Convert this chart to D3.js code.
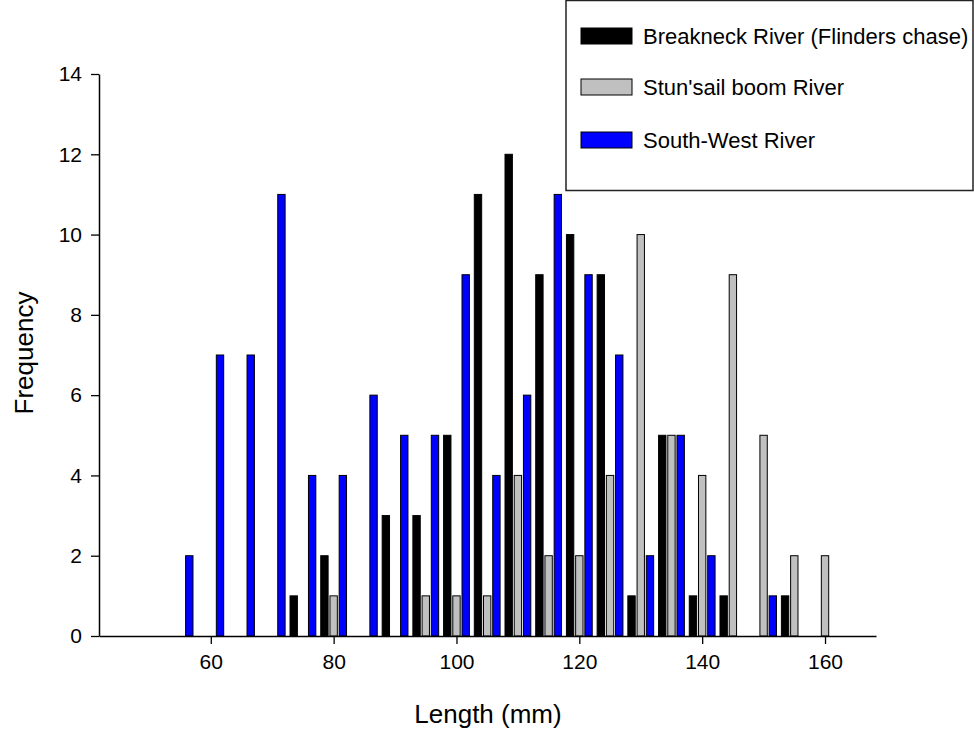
<!DOCTYPE html>
<html>
<head>
<meta charset="utf-8">
<script src="https://cdn.jsdelivr.net/npm/d3@7"></script>
<style>
  body { margin: 0; background: #fff; }
  svg { font-family: Arial, "Liberation Sans", sans-serif; }
</style>
</head>
<body>
<div class="canvas"></div>
<script>
// bin centres (mm) and counts per river
const bins = [55, 60, 65, 70, 75, 80, 85, 90, 95, 100, 105, 110, 115, 120, 125, 130, 135, 140, 145, 150, 155, 160];
const breakneck = [0, 0, 0, 0, 1, 2, 0, 3, 3, 5, 11, 12, 9, 10, 9, 1, 5, 1, 1, 0, 1, 0];
const stunsail  = [0, 0, 0, 0, 0, 1, 0, 0, 1, 1, 1, 4, 2, 2, 4, 10, 5, 4, 9, 5, 2, 2];
const southWest = [2, 7, 7, 11, 4, 4, 6, 5, 5, 9, 4, 6, 11, 9, 7, 2, 5, 2, 0, 1, 0, 0];
const seriesNames = ['Breakneck River (Flinders chase)', "Stun'sail boom River", 'South-West River'];
const yTicks = [0, 2, 4, 6, 8, 10, 12, 14];
const xTicks = [60, 80, 100, 120, 140, 160];

const colors = ['#000000', '#c0c0c0', '#0000ff'];
const offsets = [-1.5, 0, 1.5];   // mm, position of each series inside a bin
const barW = 1.2;                 // mm

const svg = d3.select('.canvas')
    .append('svg')
        .attr('width', 974)
        .attr('height', 732);

const x = d3.scaleLinear()
    .domain([41.8, 168.3])
    .range([99, 876]);

const y = d3.scaleLinear()
    .domain([0, 14])
    .range([636, 74]);

// bars
const allSeries = [breakneck, stunsail, southWest];
allSeries.forEach((vals, s) => {
    const data = bins.map((b, i) => ({bin: b, v: vals[i]})).filter(d => d.v > 0);
    svg.append('g')
        .selectAll('rect')
        .data(data)
        .enter()
        .append('rect')
            .attr('x', d => x(d.bin + offsets[s] - barW / 2))
            .attr('width', x(barW) - x(0))
            .attr('y', d => y(d.v))
            .attr('height', d => y(0) - y(d.v))
            .attr('fill', colors[s])
            .attr('stroke', '#000')
            .attr('stroke-width', 1);
});

// axes
const xAxis = d3.axisBottom(x).tickValues(xTicks).tickSize(8).tickSizeOuter(0).tickPadding(10);
const yAxis = d3.axisLeft(y).tickValues(yTicks).tickSize(8).tickSizeOuter(0).tickPadding(9);

const xAxisGroup = svg.append('g').attr('transform', `translate(0,${y(0)})`).call(xAxis);
const yAxisGroup = svg.append('g').attr('transform', `translate(${x(41.8)},0)`).call(yAxis);

[xAxisGroup, yAxisGroup].forEach(g => {
    g.select('.domain').attr('stroke', '#000').attr('stroke-width', 1.5);
    g.selectAll('.tick line').attr('stroke', '#000').attr('stroke-width', 1.3);
    g.selectAll('.tick text')
        .attr('fill', '#000')
        .style('font-size', '21px')
        .style('font-family', 'Arial, "Liberation Sans", sans-serif');
});

// axis titles
svg.append('text')
    .attr('x', 488)
    .attr('y', 723)
    .attr('text-anchor', 'middle')
    .style('font-size', '26px')
    .text('Length (mm)');

svg.append('text')
    .attr('transform', 'translate(33,353) rotate(-90)')
    .attr('text-anchor', 'middle')
    .style('font-size', '26px')
    .text('Frequency');

// legend
const legend = svg.append('g');
legend.append('rect')
    .attr('x', 566)
    .attr('y', 0.5)
    .attr('width', 407)
    .attr('height', 190)
    .attr('fill', 'none')
    .attr('stroke', '#222')
    .attr('stroke-width', 1.5);

const legendRows = [36, 87, 140];
seriesNames.forEach((name, i) => {
    legend.append('rect')
        .attr('x', 581)
        .attr('y', legendRows[i] - 8)
        .attr('width', 51)
        .attr('height', 16)
        .attr('fill', colors[i])
        .attr('stroke', '#000')
        .attr('stroke-width', 1);
    legend.append('text')
        .attr('x', 643)
        .attr('y', legendRows[i])
        .attr('dy', '0.35em')
        .style('font-size', '22px')
        .text(name);
});
</script>
</body>
</html>
